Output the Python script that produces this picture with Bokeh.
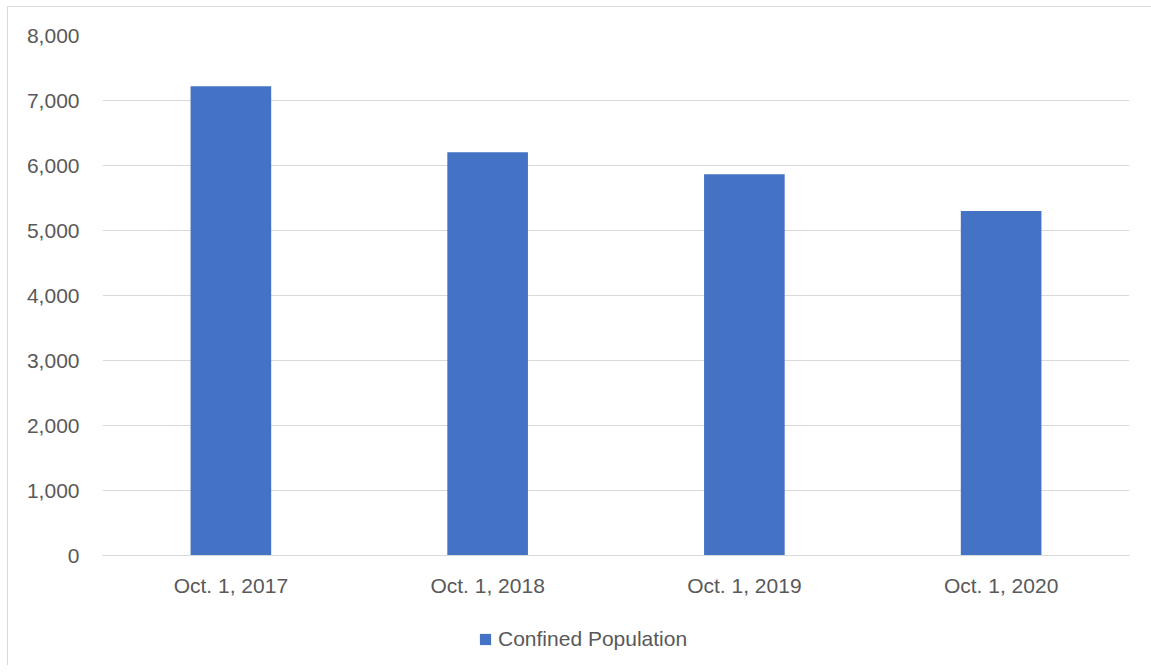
from bokeh.plotting import figure
from bokeh.layouts import column
from bokeh.models import Legend, LegendItem, NumeralTickFormatter, ColumnDataSource
from bokeh.embed import file_html
from bokeh.resources import INLINE

# Confined population on Oct. 1 of each year
dates = ["Oct. 1, 2017", "Oct. 1, 2018", "Oct. 1, 2019", "Oct. 1, 2020"]
population = [7220, 6205, 5865, 5300]
series_name = "Confined Population"
y_ticks = [0, 1000, 2000, 3000, 4000, 5000, 6000, 7000, 8000]

FONT = "Liberation Sans"
TEXT = "#595959"
GRID = "#d9d9d9"
BAR = "#4472C4"

src = ColumnDataSource(data=dict(date=dates, pop=population))

# ---- main bar chart ----
p = figure(
    x_range=dates, y_range=(0, 8000),
    width=1143, height=600,
    output_backend="svg", toolbar_location=None,
    min_border_left=94, min_border_right=22,
    min_border_top=28, min_border_bottom=52,
)
p.outline_line_color = None
p.background_fill_color = "white"
p.border_fill_color = "white"

r = p.vbar(x="date", top="pop", width=0.314, source=src,
           fill_color=BAR, line_color=None)
p.x_range.range_padding = 0.0

p.yaxis.ticker = y_ticks
p.yaxis.formatter = NumeralTickFormatter(format="0,0")
p.yaxis.axis_line_color = None
p.yaxis.major_tick_line_color = None
p.yaxis.minor_tick_line_color = None
p.yaxis.major_label_text_font = FONT
p.yaxis.major_label_text_font_size = "21px"
p.yaxis.major_label_text_color = TEXT
p.yaxis.major_label_standoff = 17

p.xaxis.axis_line_color = GRID
p.xaxis.axis_line_width = 1
p.xaxis.major_tick_line_color = None
p.xaxis.minor_tick_line_color = None
p.xaxis.major_label_text_font = FONT
p.xaxis.major_label_text_font_size = "21px"
p.xaxis.major_label_text_color = TEXT
p.xaxis.major_label_standoff = 12

p.xgrid.grid_line_color = None
p.ygrid.ticker = y_ticks
p.ygrid.grid_line_color = GRID
p.ygrid.grid_line_width = 1

# ---- legend strip under the chart (its frame lines up with the chart's) ----
leg = figure(
    x_range=(0, 1), y_range=(0, 1),
    width=1143, height=58,
    output_backend="svg", toolbar_location=None,
    x_axis_location=None, y_axis_location=None,
    min_border=0,
)
leg.outline_line_color = None
leg.grid.visible = False
leg.background_fill_color = "white"
leg.border_fill_color = "white"
# hidden bar renderer in the chart's style, used only for the legend swatch
swatch = leg.vbar(x=[0.5], top=[1], width=0.3, fill_color=BAR, line_color=None)
swatch.visible = False

legend = Legend(
    items=[LegendItem(label=series_name, renderers=[swatch])],
    orientation="horizontal", location=(376, 14),
    label_text_font=FONT, label_text_font_size="21px", label_text_color=TEXT,
    glyph_width=14, glyph_height=14, label_standoff=6,
    border_line_color=None, background_fill_alpha=0,
    inactive_fill_alpha=0,
    padding=0, margin=0,
)
leg.add_layout(legend, "center")

layout = column(p, leg, spacing=0)
layout.styles = {
    "margin-left": "7px", "margin-top": "6px",
    "border-left": f"1px solid {GRID}", "border-top": f"1px solid {GRID}",
}

open("out.html", "w").write(file_html(layout, INLINE))
